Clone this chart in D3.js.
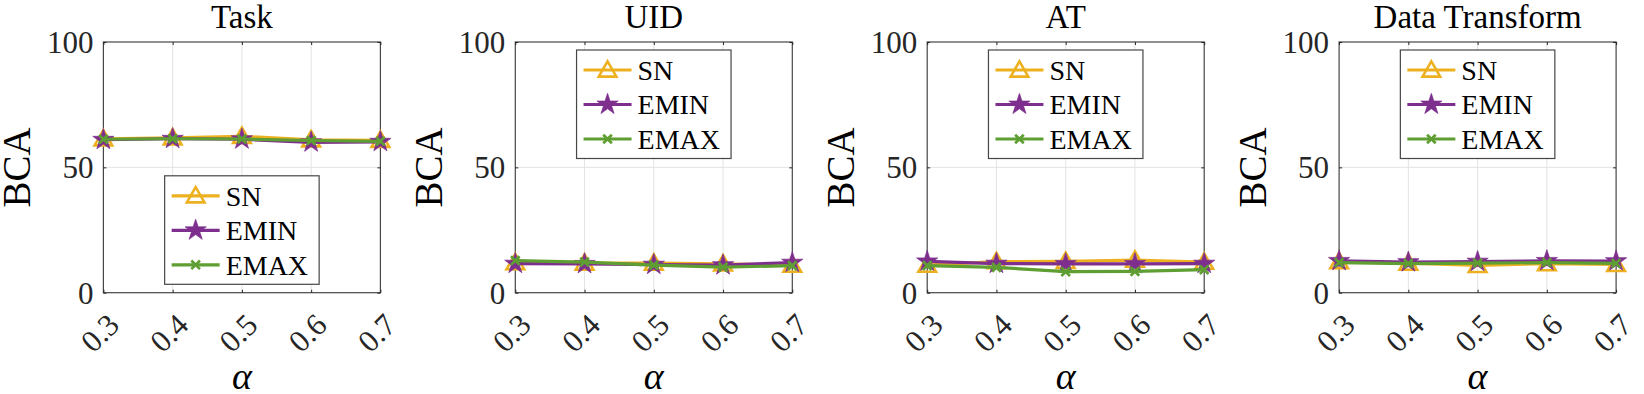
<!DOCTYPE html>
<html>
<head>
<meta charset="utf-8">
<script src="https://cdn.jsdelivr.net/npm/d3@7"></script>
<style>
  html, body { margin: 0; padding: 0; background: #fff; }
  svg { display: block; }
</style>
</head>
<body>
<svg id="chart" width="1644" height="394"></svg>
<script>
// ---- data ----
const alphas = [0.3, 0.4, 0.5, 0.6, 0.7];
const xTickLabels = ["0.3", "0.4", "0.5", "0.6", "0.7"];
const yTicks = [0, 50, 100];
const panelTitles = ["Task", "UID", "AT", "Data Transform"];
const seriesNames = ["SN", "EMIN", "EMAX"];

const taskSN   = [61.4, 61.8, 62.4, 61.0, 60.8];
const taskEMIN = [61.0, 61.4, 61.2, 60.0, 60.2];
const taskEMAX = [61.2, 61.4, 61.3, 60.7, 60.4];

const uidSN   = [12.0, 11.8, 11.8, 11.5, 11.0];
const uidEMIN = [11.6, 11.5, 11.2, 11.0, 12.0];
const uidEMAX = [12.8, 12.2, 11.0, 10.2, 10.8];

const atSN   = [11.0, 12.4, 12.5, 13.0, 12.2];
const atEMIN = [12.5, 11.6, 11.5, 11.5, 11.6];
const atEMAX = [10.8, 10.1, 8.4, 8.5, 9.2];

const dtSN   = [12.4, 11.8, 10.9, 11.6, 11.3];
const dtEMIN = [12.7, 12.2, 12.4, 12.7, 12.6];
const dtEMAX = [12.0, 11.6, 11.8, 12.0, 11.7];

const panelData = [
  [taskSN, taskEMIN, taskEMAX],
  [uidSN, uidEMIN, uidEMAX],
  [atSN, atEMIN, atEMAX],
  [dtSN, dtEMIN, dtEMAX]
];
const legendPlace = ["south", "north", "north", "north"];

// ---- styles / layout ----
const serifFont = "Liberation Serif";
const colors = ["#EDB120", "#7E2F8E", "#5E9E32"];
const axisColor = "#262626";
const gridColor = "#e3e3e3";
const panelLeft0 = 103.4, panelStep = 411.9, panelW = 277, plotTop = 42, plotBottom = 292.7;

const svg = d3.select("#chart");

function markerPath(i) {
  if (i === 0) return d3.symbol(d3.symbolTriangle, 135)();
  if (i === 1) return d3.symbol(d3.symbolStar, 140)();
  return "M-4.3,-4.3L4.3,4.3M-4.3,4.3L4.3,-4.3";
}
function styleMarker(sel, i) {
  if (i === 0) sel.attr("fill", "none").attr("stroke", colors[0]).attr("stroke-width", 2.6).attr("stroke-linejoin", "miter");
  else if (i === 1) sel.attr("fill", colors[1]).attr("stroke", colors[1]).attr("stroke-width", 1).attr("stroke-opacity", 0.7);
  else sel.attr("fill", "none").attr("stroke", colors[2]).attr("stroke-width", 2.7);
}

panelData.forEach((series, p) => {
  const left = panelLeft0 + p * panelStep;
  const x = d3.scaleLinear().domain([0.3, 0.7]).range([left, left + panelW]);
  const y = d3.scaleLinear().domain([0, 100]).range([plotBottom, plotTop]);
  const g = svg.append("g").attr("font-family", serifFont);

  // grid
  g.append("g").selectAll("line").data(alphas.slice(1, -1)).join("line")
    .attr("x1", d => x(d)).attr("x2", d => x(d)).attr("y1", plotTop).attr("y2", plotBottom)
    .attr("stroke", gridColor).attr("stroke-width", 1);
  g.append("g").selectAll("line").data(yTicks.slice(1, -1)).join("line")
    .attr("x1", left).attr("x2", left + panelW).attr("y1", d => y(d)).attr("y2", d => y(d))
    .attr("stroke", gridColor).attr("stroke-width", 1);

  // axes via d3 axis
  const xAxis = d3.axisBottom(x).tickValues(alphas).tickFormat((d, i) => xTickLabels[i]).tickSize(-3).tickPadding(0);
  const gx = g.append("g").attr("transform", `translate(0,${plotBottom})`).call(xAxis).attr("font-family", serifFont);
  gx.select(".domain").remove();
  gx.selectAll(".tick line").attr("stroke", axisColor);
  gx.selectAll(".tick text")
    .attr("font-family", serifFont)
    .attr("font-size", 31)
    .attr("fill", axisColor)
    .attr("text-anchor", "end")
    .attr("transform", "translate(17,34) rotate(-45)")
    .attr("y", 0).attr("dy", 0).attr("x", 0);

  const xTop = d3.axisTop(x).tickValues(alphas).tickFormat("").tickSize(-3);
  const gxt = g.append("g").attr("transform", `translate(0,${plotTop})`).call(xTop);
  gxt.select(".domain").remove();
  gxt.selectAll(".tick line").attr("stroke", axisColor);

  const yAxis = d3.axisLeft(y).tickValues(yTicks).tickSize(-3).tickPadding(10);
  const gy = g.append("g").attr("transform", `translate(${left},0)`).call(yAxis).attr("font-family", serifFont);
  gy.select(".domain").remove();
  gy.selectAll(".tick line").attr("stroke", axisColor);
  gy.selectAll(".tick text")
    .attr("font-family", serifFont)
    .attr("font-size", 31)
    .attr("fill", axisColor)
    .attr("dy", "0.34em");

  const yRight = d3.axisRight(y).tickValues(yTicks).tickFormat("").tickSize(-3);
  const gyr = g.append("g").attr("transform", `translate(${left + panelW},0)`).call(yRight);
  gyr.select(".domain").remove();
  gyr.selectAll(".tick line").attr("stroke", axisColor);

  // box
  g.append("rect").attr("x", left).attr("y", plotTop).attr("width", panelW).attr("height", plotBottom - plotTop)
    .attr("fill", "none").attr("stroke", axisColor).attr("stroke-width", 1.2).attr("stroke-opacity", 0.85);

  // series
  const line = d3.line().x((d, i) => x(alphas[i])).y(d => y(d));
  series.forEach((vals, i) => {
    const sg = g.append("g");
    sg.append("path").datum(vals).attr("d", line)
      .attr("fill", "none").attr("stroke", colors[i]).attr("stroke-width", 3.2).attr("stroke-linejoin", "round");
    sg.selectAll("path.m").data(vals).join("path").attr("class", "m")
      .attr("transform", (d, k) => `translate(${x(alphas[k])},${y(d) + (i === 0 ? 1.5 : 0)})`)
      .attr("d", markerPath(i))
      .call(sel => styleMarker(sel, i));
  });

  // title
  g.append("text").attr("x", left + panelW / 2).attr("y", 28).attr("text-anchor", "middle")
    .attr("font-family", serifFont).attr("font-size", 33).attr("fill", "#000").text(panelTitles[p]);

  // y label
  g.append("text").attr("transform", `translate(${left - 73},${(plotTop + plotBottom) / 2}) rotate(-90)`)
    .attr("text-anchor", "middle").attr("font-family", serifFont).attr("font-size", 39).attr("fill", "#000").text("BCA");

  // x label
  g.append("text").attr("x", left + panelW / 2).attr("y", 389).attr("text-anchor", "middle")
    .attr("font-family", serifFont).attr("font-size", 38).attr("font-style", "italic").attr("fill", "#000").text("α");

  // legend
  const lw = 154.5, lh = 108.5;
  const lx = left + (panelW - lw) / 2;
  const ly = legendPlace[p] === "north" ? plotTop + 8 : plotBottom - 8.4 - lh;
  const lg = g.append("g").attr("transform", `translate(${lx},${ly})`);
  lg.append("rect").attr("width", lw).attr("height", lh).attr("fill", "#fff")
    .attr("stroke", axisColor).attr("stroke-width", 1.2).attr("stroke-opacity", 0.85);
  seriesNames.forEach((name, i) => {
    const cy = 20 + i * 34.5;
    lg.append("line").attr("x1", 7).attr("x2", 55).attr("y1", cy).attr("y2", cy)
      .attr("stroke", colors[i]).attr("stroke-width", 3.2);
    lg.append("path").attr("transform", `translate(31,${cy + (i === 0 ? 1.5 : 0)})`).attr("d", markerPath(i))
      .call(sel => styleMarker(sel, i));
    lg.append("text").attr("x", 61).attr("y", cy).attr("dy", "0.35em")
      .attr("font-family", serifFont).attr("font-size", 28).attr("fill", "#000").text(name);
  });
});
</script>
</body>
</html>
